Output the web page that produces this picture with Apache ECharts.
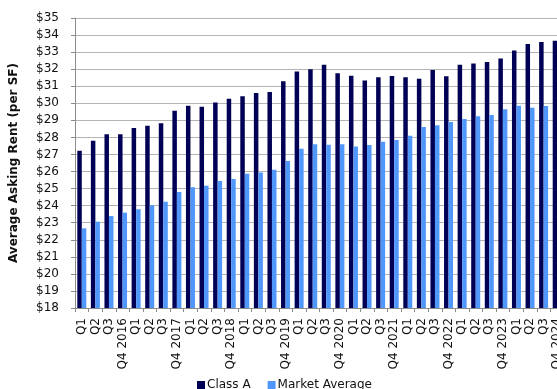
<!DOCTYPE html>
<html>
<head>
<meta charset="utf-8">
<script src="https://cdn.jsdelivr.net/npm/echarts@6/dist/echarts.min.js"></script>
<style>
  html, body { margin: 0; padding: 0; background: #fff; overflow: hidden; }
  #chart { width: 564px; height: 389px; }
</style>
</head>
<body>
<div id="chart"></div>
<script>
// Quarterly average asking rent, 2016 - 2024
const quarters = [
  'Q1', 'Q2', 'Q3', 'Q4 2016',
  'Q1', 'Q2', 'Q3', 'Q4 2017',
  'Q1', 'Q2', 'Q3', 'Q4 2018',
  'Q1', 'Q2', 'Q3', 'Q4 2019',
  'Q1', 'Q2', 'Q3', 'Q4 2020',
  'Q1', 'Q2', 'Q3', 'Q4 2021',
  'Q1', 'Q2', 'Q3', 'Q4 2022',
  'Q1', 'Q2', 'Q3', 'Q4 2023',
  'Q1', 'Q2', 'Q3', 'Q4 2024'
];

const classA = [
  27.22, 27.81, 28.18, 28.18, 28.55, 28.69, 28.83, 29.57, 29.86, 29.80, 30.04, 30.26,
  30.41, 30.60, 30.66, 31.29, 31.87, 31.99, 32.26, 31.76, 31.62, 31.33, 31.52, 31.60,
  31.52, 31.44, 31.95, 31.58, 32.26, 32.34, 32.42, 32.62, 33.10, 33.48, 33.59, 33.67
];

const marketAverage = [
  22.67, 23.06, 23.39, 23.59, 23.79, 24.02, 24.23, 24.80, 25.08, 25.17, 25.45, 25.56,
  25.87, 25.95, 26.11, 26.62, 27.34, 27.60, 27.57, 27.60, 27.46, 27.56, 27.75, 27.85,
  28.10, 28.61, 28.71, 28.90, 29.08, 29.24, 29.31, 29.65, 29.86, 29.74, 29.84, 29.96
];

const seriesNames = ['Class A', 'Market Average'];
const yMin = 18, yMax = 35, yStep = 1;

const FONT = 'DejaVu Sans, Verdana, sans-serif';
const chart = echarts.init(document.getElementById('chart'), null, { renderer: 'canvas' });

chart.setOption({
  animation: false,
  backgroundColor: '#ffffff',
  // plot area runs slightly past the visible page on the right
  grid: { left: 71, top: 18, bottom: 81, right: 0, containLabel: false },
  legend: {
    data: seriesNames,
    left: 197,
    top: 379,
    padding: 0,
    itemWidth: 8,
    itemHeight: 8,
    itemGap: 17,
    icon: 'rect',
    textStyle: { fontFamily: FONT, fontSize: 12, color: '#111', padding: [0, 0, 0, -3] }
  },
  xAxis: {
    type: 'category',
    data: quarters,
    boundaryGap: true,
    axisLine: { lineStyle: { color: '#8c8c8c', width: 1 } },
    axisTick: { show: true, length: 4, lineStyle: { color: '#8c8c8c' } },
    axisLabel: {
      interval: 0,
      rotate: 90,
      margin: 10,
      fontFamily: FONT,
      fontSize: 12,
      color: '#111'
    },
    splitLine: { show: false }
  },
  yAxis: {
    type: 'value',
    min: yMin,
    max: yMax,
    interval: yStep,
    name: 'Average Asking Rent (per SF)',
    nameLocation: 'middle',
    nameGap: 55,
    nameTextStyle: { fontFamily: FONT, fontSize: 12, fontWeight: 'bold', color: '#111' },
    axisLine: { show: true, lineStyle: { color: '#8c8c8c', width: 1 } },
    axisTick: { show: true, length: 4, lineStyle: { color: '#8c8c8c' } },
    axisLabel: {
      margin: 16,
      fontFamily: FONT,
      fontSize: 12,
      color: '#111',
      formatter: v => '$' + v
    },
    splitLine: { show: true, lineStyle: { color: '#b4b4b4', width: 1 } }
  },
  series: [
    {
      name: seriesNames[0],
      type: 'bar',
      data: classA,
      barWidth: 4.5,
      barGap: '0%',
      itemStyle: { color: '#000055' }
    },
    {
      name: seriesNames[1],
      type: 'bar',
      data: marketAverage,
      barWidth: 4.5,
      barGap: '0%',
      itemStyle: { color: '#5097fc' }
    }
  ]
});
</script>
</body>
</html>
